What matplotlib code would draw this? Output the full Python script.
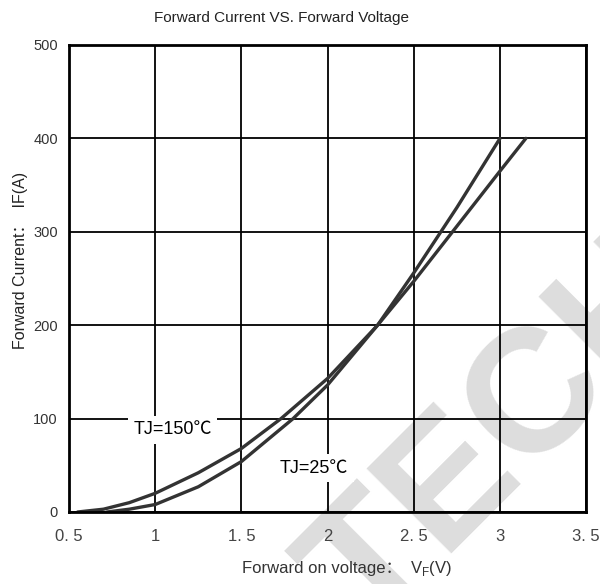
import matplotlib.pyplot as plt

# Forward current vs forward voltage at two junction temperatures
vf_150 = [0.55, 0.7, 0.85, 1.0, 1.25, 1.5, 1.73, 2.0, 2.29, 2.5, 2.75, 3.0]
if_150 = [0, 3, 10, 20, 42, 68, 100, 143, 200, 256, 326, 400]

vf_25 = [0.72, 0.85, 1.0, 1.25, 1.5, 1.8, 2.0, 2.29, 2.5, 2.75, 3.0, 3.15]
if_25 = [0, 3, 8, 27, 54, 100, 136, 200, 247, 306, 365, 400]

x_ticks = [0.5, 1, 1.5, 2, 2.5, 3, 3.5]
x_tick_labels = ["0. 5", "1", "1. 5", "2", "2. 5", "3", "3. 5"]
y_ticks = [0, 100, 200, 300, 400, 500]

plt.rcParams['font.family'] = ['Liberation Sans', 'Noto Sans CJK SC', 'DejaVu Sans']

fig = plt.figure(figsize=(6, 5.84), dpi=100)
ax = fig.add_axes([0.115, 0.1233, 0.862, 0.7997])

# faint watermark behind the grid
ax.text(0.613, -0.089, "TECH", transform=fig.transFigure, fontsize=126, fontweight='bold',
        color='#dddddd', rotation=45, rotation_mode='anchor', ha='left', va='baseline',
        zorder=0.5, clip_on=False)

ax.plot(vf_150, if_150, color='#333333', lw=2.4, zorder=3, solid_capstyle='round')
ax.plot(vf_25, if_25, color='#333333', lw=2.4, zorder=3, solid_capstyle='round')

ax.set_xlim(0.5, 3.5)
ax.set_ylim(0, 500)
ax.set_xticks(x_ticks, x_tick_labels)
ax.set_yticks(y_ticks)
ax.tick_params(axis='x', length=0, labelsize=12, colors='#444444', pad=12)
ax.tick_params(axis='y', length=0, labelsize=10.5, colors='#333333', pad=8)
ax.grid(True, color='black', lw=1.3, zorder=1)
ax.set_axisbelow(True)
ax.patch.set_alpha(0)
for s in ax.spines.values():
    s.set_linewidth(2)
    s.set_zorder(4)

box = dict(facecolor='white', edgecolor='none', pad=4)
ax.text(1.10, 88, "TJ=150℃", fontsize=13, ha='center', va='center', bbox=box, zorder=2)
ax.text(1.92, 47, "TJ=25℃", fontsize=13, ha='center', va='center', bbox=box, zorder=2)

fig.text(0.47, 1 - 18 / 584, "Forward Current VS. Forward Voltage", fontsize=11,
         ha='center', va='center', color='#222222')

# x label: colon needs the CJK fallback, subscript needs mathtext, so two pieces
fig.text(402 / 600, 0.018, "Forward on voltage：", fontsize=12, ha='right',
         va='baseline', color='#333333')
fig.text(410 / 600, 0.018, "V$_\\mathregular{F}$(V)", fontsize=12, ha='left',
         va='baseline', color='#333333')
fig.text(21 / 600, 1 - 260 / 584, "Forward Current：  IF(A)", fontsize=11.5,
         rotation=90, ha='center', va='center', color='#222222')

plt.savefig("out.png", dpi=100)
